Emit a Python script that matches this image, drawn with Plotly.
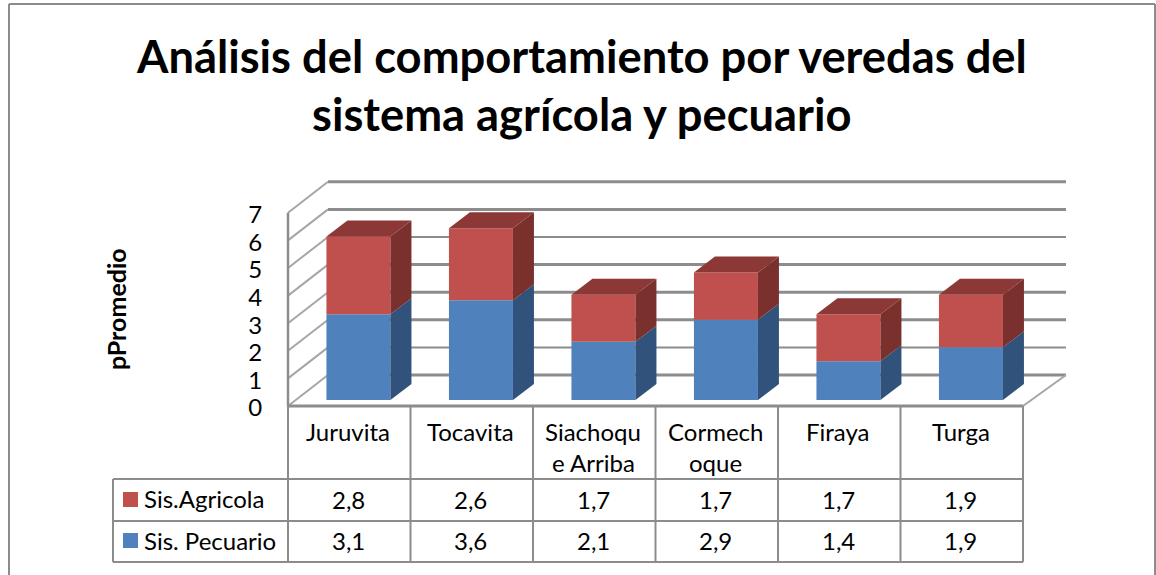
import plotly.graph_objects as go

title_lines = ['Análisis del comportamiento por veredas del', 'sistema agrícola y pecuario']
y_title = 'pPromedio'
category_lines = [['Juruvita'], ['Tocavita'], ['Siachoqu', 'e Arriba'], ['Cormech', 'oque'], ['Firaya'], ['Turga']]
sis_pecuario = [3.1, 3.6, 2.1, 2.9, 1.4, 1.9]
sis_agricola = [2.8, 2.6, 1.7, 1.7, 1.7, 1.9]
y_ticks = [0, 1, 2, 3, 4, 5, 6, 7]

WIDTH, HEIGHT = 1156, 575
FONT = 'Lato'
GREY = '#8c8c8c'
BLUE, BLUE_SIDE = '#4f81bd', '#31527a'
RED, RED_SIDE, RED_TOP = '#c0504d', '#7a302d', '#8c3836'

# pixel frame of the axes
PX_LEFT, PX_RIGHT, PY_TOP, PY_BOTTOM = 270, 1080, 170, 420
X_ZERO, CAT_W = 288, 122.5       # wall front-left corner, category width
WALL_ZERO, WALL_UNIT = 406, 27.6  # value 0 on front wall, px per unit
BAR_ZERO, BAR_UNIT = 400, 27.7    # bars stand further back on the floor
WALL_DX_L, WALL_DX_R, WALL_DY = 40 / CAT_W, 43 / CAT_W, 31 / WALL_UNIT
BAR_DX, BAR_DY = 21 / CAT_W, 16 / BAR_UNIT
BAR_W = 64 / CAT_W
BAR_SHIFT = 0.575


def px(p):
    return p / WIDTH


def py(p):
    return 1 - p / HEIGHT


def cat(p):
    return (p - X_ZERO) / CAT_W


def text(s, x, y, size=24, bold=False, angle=0, xref='paper', anchor='center'):
    return dict(text=f'<b>{s}</b>' if bold else s, x=x, y=y, xref=xref, yref='paper',
                showarrow=False, xanchor=anchor, yanchor='middle', textangle=angle,
                font=dict(family=FONT, size=size, color='#000000'))


def box_faces(bases, tops):
    """Side and top polygons of the stacked bars, in category/value units."""
    sx, sy, tx, ty = [], [], [], []
    for i, (b, t) in enumerate(zip(bases, tops)):
        right = i + BAR_SHIFT + BAR_W / 2
        left = i + BAR_SHIFT - BAR_W / 2
        sx += [right, right + BAR_DX, right + BAR_DX, right, right, None]
        sy += [b, b + BAR_DY, t + BAR_DY, t, b, None]
        tx += [left, left + BAR_DX, right + BAR_DX, right, left, None]
        ty += [t, t + BAR_DY, t + BAR_DY, t, t, None]
    return sx, sy, tx, ty


fig = go.Figure()

# walls and floor
last = len(category_lines)
back_widths = [3, 2, 3, 3, 3, 2, 3, 3]
for level, w in zip(y_ticks, back_widths):
    fig.add_trace(go.Scatter(x=[WALL_DX_L, last + WALL_DX_R], y=[level + WALL_DY] * 2, mode='lines',
                             line=dict(color=GREY, width=w), hoverinfo='skip', showlegend=False))
    fig.add_trace(go.Scatter(x=[0, WALL_DX_L], y=[level, level + WALL_DY], mode='lines',
                             line=dict(color='#a6a6a6', width=2), hoverinfo='skip', showlegend=False))
fig.add_trace(go.Scatter(x=[0, 0], y=[0, y_ticks[-1]], mode='lines',
                         line=dict(color=GREY, width=2.5), hoverinfo='skip', showlegend=False))
fig.add_trace(go.Scatter(x=[0, last], y=[0, 0], mode='lines',
                         line=dict(color=GREY, width=3), hoverinfo='skip', showlegend=False))
fig.add_trace(go.Scatter(x=[last, last + WALL_DX_R], y=[0, WALL_DY], mode='lines',
                         line=dict(color='#a6a6a6', width=2), hoverinfo='skip', showlegend=False))

# bars
positions = [i + BAR_SHIFT for i in range(last)]
stack_top = [a + b for a, b in zip(sis_pecuario, sis_agricola)]
fig.add_trace(go.Bar(x=positions, y=sis_pecuario, width=BAR_W, marker=dict(color=BLUE, line_width=0),
                     name='Sis. Pecuario', xaxis='x', yaxis='y2'))
fig.add_trace(go.Bar(x=positions, y=sis_agricola, base=sis_pecuario, width=BAR_W,
                     marker=dict(color=RED, line_width=0), name='Sis.Agricola', xaxis='x', yaxis='y2'))

side_x, side_y, _, _ = box_faces([0] * last, sis_pecuario)
fig.add_trace(go.Scatter(x=side_x, y=side_y, mode='lines', fill='toself', fillcolor=BLUE_SIDE,
                         line=dict(width=0), yaxis='y2', hoverinfo='skip', showlegend=False))
side_x, side_y, top_x, top_y = box_faces(sis_pecuario, stack_top)
fig.add_trace(go.Scatter(x=side_x, y=side_y, mode='lines', fill='toself', fillcolor=RED_SIDE,
                         line=dict(width=0), yaxis='y2', hoverinfo='skip', showlegend=False))
fig.add_trace(go.Scatter(x=top_x, y=top_y, mode='lines', fill='toself', fillcolor=RED_TOP,
                         line=dict(width=0), yaxis='y2', hoverinfo='skip', showlegend=False))

# texts
annotations = [
    text(title_lines[0], px(581.5), py(56), size=45.3, bold=True),
    text(title_lines[1], px(581.5), py(113), size=45.3, bold=True),
    text(y_title, px(116), py(309), size=25, bold=True, angle=-90),
    text('Sis.Agricola', px(142), py(498), anchor='left'),
    text('Sis. Pecuario', px(142), py(540), anchor='left'),
]
for i, lines in enumerate(category_lines):
    for line, p in zip(lines, [431, 463]):
        annotations.append(text(line, i + 0.49, py(p), xref='x'))
    annotations.append(text(f'{sis_agricola[i]}'.replace('.', ','), i + 0.49, py(499), xref='x'))
    annotations.append(text(f'{sis_pecuario[i]}'.replace('.', ','), i + 0.49, py(540), xref='x'))

# table grid, chart border and legend keys
shapes = []


def rule(x0, y0, x1, y1, width=2, color=GREY):
    shapes.append(dict(type='line', xref='paper', yref='paper', x0=px(x0), y0=py(y0), x1=px(x1), y1=py(y1),
                       line=dict(color=color, width=width)))


def key(x0, y0, color):
    shapes.append(dict(type='rect', xref='paper', yref='paper', x0=px(x0), x1=px(x0 + 15), y0=py(y0), y1=py(y0 + 15),
                       fillcolor=color, line_width=0))


rule(9, 4, 1155, 4)
rule(9, 4, 9, 575)
rule(1155, 4, 1155, 575)
for i in range(last + 1):
    rule(X_ZERO + i * CAT_W, 406, X_ZERO + i * CAT_W, 562, width=2)
rule(113, 479, 113, 562)
for p in [479, 521, 562]:
    rule(113, p, X_ZERO + last * CAT_W, p)
key(123, 492, RED)
key(123, 533, BLUE)

fig.update_layout(
    width=WIDTH, height=HEIGHT, margin=dict(l=0, r=0, t=0, b=0),
    paper_bgcolor='white', plot_bgcolor='rgba(0,0,0,0)',
    barmode='overlay', showlegend=False, annotations=annotations, shapes=shapes,
    xaxis=dict(domain=[px(PX_LEFT), px(PX_RIGHT)], range=[cat(PX_LEFT), cat(PX_RIGHT)], visible=False),
    yaxis=dict(domain=[py(PY_BOTTOM), py(PY_TOP)],
               range=[(WALL_ZERO - PY_BOTTOM) / WALL_UNIT, (WALL_ZERO - PY_TOP) / WALL_UNIT],
               tickvals=y_ticks, ticks='outside', ticklen=2, tickcolor='rgba(0,0,0,0)',
               tickfont=dict(family=FONT, size=24, color='#000000'), ticklabelshift=2,
               showgrid=False, zeroline=False, showline=False),
    yaxis2=dict(domain=[py(PY_BOTTOM), py(PY_TOP)], overlaying='y', visible=False,
                range=[(BAR_ZERO - PY_BOTTOM) / BAR_UNIT, (BAR_ZERO - PY_TOP) / BAR_UNIT]),
)

# the default page has an 8px body margin that would shift the picture
fig.write_html("out.html", config=dict(displayModeBar=False),
               post_script="document.body.style.margin='0';")
